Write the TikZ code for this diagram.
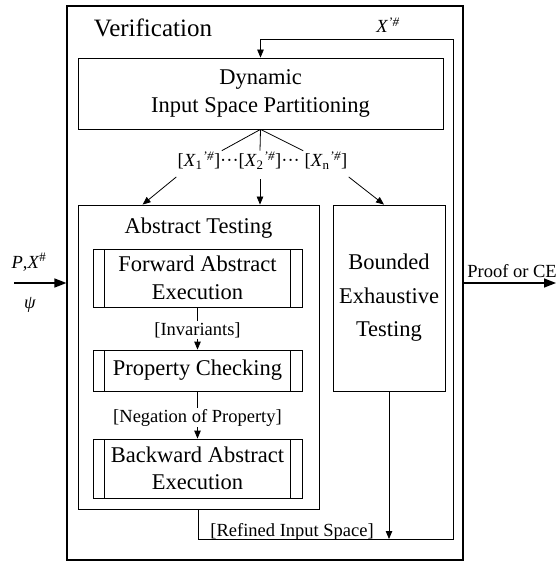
\documentclass[tikz,border=0pt]{standalone}
\usepackage{fontspec}
\setmainfont{Liberation Serif}
\usetikzlibrary{arrows.meta,positioning}

\begin{document}
\begin{tikzpicture}[x=1pt, y=-1pt, line width=0.8pt,
  >={Triangle[length=8pt,width=6.5pt]},
  box/.style={draw, inner sep=0pt, align=center, font=\fontsize{22.5}{27.5}\selectfont},
  procbox/.style={box, path picture={
    \draw ([xshift=11.5pt]path picture bounding box.north west) -- ([xshift=11.5pt]path picture bounding box.south west)
          ([xshift=-11.5pt]path picture bounding box.north east) -- ([xshift=-11.5pt]path picture bounding box.south east);}},
  lbl/.style={inner sep=1pt, font=\fontsize{18.5}{22}\selectfont},
  io/.style={line width=1.6pt, -{Triangle[length=12pt,width=9pt]}}]
\useasboundingbox (0,0) rectangle (558,561);

% outer frame
\node (verif) [draw, line width=1.2pt, minimum width=396pt, minimum height=554pt] at (265,283) {};
\node (vtitle) [font=\fontsize{25}{30}\selectfont, anchor=base] at (153,37) {Verification};

\node (disp) [box, minimum width=365pt, minimum height=71pt] at (260.5,93.5) {Dynamic\\Input Space Partitioning};

% partitions
\node (x1) [lbl, anchor=base] at (199,167) {[\textit{X}\textsubscript{1}\textsuperscript{\textit{'\#}}]};
\node (x2) [lbl, anchor=base] at (260,167) {···[\textit{X}\textsubscript{2}\textsuperscript{\textit{'\#}}]···};
\node (xn) [lbl, anchor=base] at (326,167) {[\textit{X}\textsubscript{n}\textsuperscript{\textit{'\#}}]};

% abstract testing
\node (abst) [draw, minimum width=241pt, minimum height=304pt] at (198.5,357) {};
\node (atitle) [box, draw=none, anchor=base] at (198.5,233) {Abstract Testing};
\node (fwd) [procbox, minimum width=209pt, minimum height=58pt] at (197.5,278) {Forward Abstract\\Execution};
\node (inv) [lbl, anchor=base] at (197.5,335) {[Invariants]};
\node (prop) [procbox, minimum width=209pt, minimum height=41pt] at (197.5,370.5) {Property Checking};
\node (neg) [lbl, anchor=base] at (197.5,422) {[Negation of Property]};
\node (bwd) [procbox, minimum width=209pt, minimum height=59pt] at (197.5,468.5) {Backward Abstract\\Execution};

\node (bet) [box, minimum width=112pt, minimum height=186pt, font=\fontsize{22.5}{33.5}\selectfont] at (389,298) {Bounded\\Exhaustive\\Testing};

\node (refl) [lbl, anchor=base west] at (209,536) {[Refined Input Space]};
\node (xpl) [lbl, anchor=base] at (388,33) {\textit{X}\textsuperscript{\textit{'\#}}};

% in / out
\coordinate (in) at (14,283);
\coordinate (out) at (556,283);
\node (inl) [lbl, anchor=base] at (29,268) {\textit{P},\textit{X}\textsuperscript{\#}};
\node (psi) [lbl, anchor=base] at (30,308) {\textit{ψ}};
\node (outl) [lbl, anchor=base] at (512,277) {Proof or CE};
\draw [io] (in) -- (in -| verif.west);
\draw [io] (verif.east) -- (out);

% fan out
\draw (disp.south) -- (x1.north east);
\draw (disp.south) -- (x2.north);
\draw (disp.south) -- (xn.north west);
\draw [->] ([yshift=-6pt]x1.south west) -- ([xshift=65pt]abst.north west);
\draw [->] ([yshift=-8pt]x2.south) -- (x2.south |- abst.north);
\draw [->] ([yshift=-6pt]xn.south east) -- ([xshift=-5pt]bet.north);

% inside abstract testing
\draw (fwd.south) -- (inv.north);
\draw [->] (inv.south) -- (prop.north);
\draw (prop.south) -- (neg.north);
\draw [->] (neg.south) -- (bwd.north);

% refinement loop
\coordinate (fbr) at (453,539);
\coordinate (fbt) at (453,39);
\draw [->] (abst.south) |- (fbr) -- (fbt) -| (disp.north);
\draw [->] (bet.south) -- (bet.south |- fbr);
\end{tikzpicture}
\end{document}
